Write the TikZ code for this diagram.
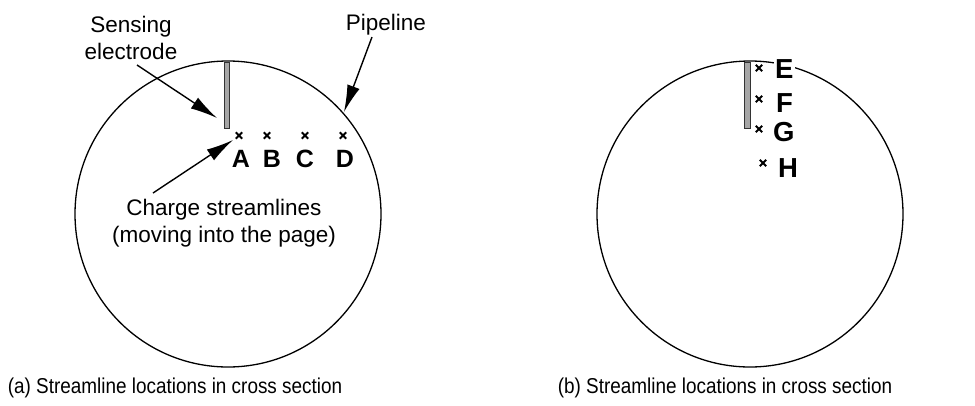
\documentclass[tikz,border=0pt]{standalone}
\usepackage{fontspec}
\usepackage{graphicx}
\setmainfont{Liberation Sans}
\usetikzlibrary{arrows.meta,calc}
\begin{document}
\begin{tikzpicture}[x=1pt,y=-1pt,
  pipe/.style={draw=black,line width=1.3pt},
  electrode/.style={fill=gray!70,draw=black!80,line width=0.8pt},
  lbl/.style={font=\fontsize{22.5}{27}\selectfont,inner sep=0pt,anchor=base},
  letA/.style={font=\fontsize{25}{30}\selectfont\bfseries,inner sep=0pt,anchor=base},
  letE/.style={font=\fontsize{27.5}{32}\selectfont\bfseries,inner sep=1pt,anchor=base west,fill=white},
  captext/.style={font=\fontsize{21.5}{25}\selectfont,inner sep=0pt,anchor=base},
  bigarrow/.style={line width=1.4pt,-{Latex[length=27pt,width=13pt]}},
  xmark/.style={line width=2pt}
]
\useasboundingbox (0,0) rectangle (975,405);
% panel (a)
\draw[pipe] (228,214) circle (153);
\draw[electrode] (224,62) rectangle (229.5,128);
\foreach \n/\x in {A/239,B/267,C/305,D/343}{
  \coordinate (x\n) at (\x,135.5);
  \draw[xmark] ($(x\n)+(-3.2,-3.2)$) -- ($(x\n)+(3.2,3.2)$) ($(x\n)+(-3.2,3.2)$) -- ($(x\n)+(3.2,-3.2)$);
}
\node[letA] (lA) at (241,167) {A};
\node[letA] (lB) at (272,167) {B};
\node[letA] (lC) at (305,167) {C};
\node[letA] (lD) at (345,167) {D};
\node[lbl] (sens1) at (131,32) {Sensing};
\node[lbl] (sens2) at (131,59) {electrode};
\node[lbl] (pipe) at (386,30) {Pipeline};
\node[lbl] (ch1) at (224,215) {Charge streamlines};
\node[lbl] (ch2) at (224,242) {(moving into the page)};
\coordinate (s0) at (137,65);
\coordinate (s1) at (217,118);
\coordinate (p0) at (372,37);
\coordinate (p1) at (344,112);
\coordinate (c0) at (153,193);
\coordinate (c1) at (233,140);
\draw[bigarrow] (s0) -- (s1);
\draw[bigarrow] (p0) -- (p1);
\draw[bigarrow] (c0) -- (c1);
\node[captext] (capa) at (175,393) {\scalebox{0.88}[1]{(a) Streamline locations in cross section}};
% panel (b)
\draw[pipe] (750,214) circle (153);
\draw[electrode] (744.5,62) rectangle (750,128);
\foreach \n/\x/\y in {E/759/68,F/759/99,G/759/129,H/763/163}{
  \coordinate (x\n) at (\x,\y);
  \draw[xmark] ($(x\n)+(-3.2,-3.2)$) -- ($(x\n)+(3.2,3.2)$) ($(x\n)+(-3.2,3.2)$) -- ($(x\n)+(3.2,-3.2)$);
}
\node[letE] (lE) at (774,78) {E};
\node[letE] (lF) at (775,112) {F};
\node[letE] (lG) at (772,141) {G};
\node[letE] (lH) at (777,177) {H};
\node[captext] (capb) at (725,393) {\scalebox{0.88}[1]{(b) Streamline locations in cross section}};
\end{tikzpicture}
\end{document}
